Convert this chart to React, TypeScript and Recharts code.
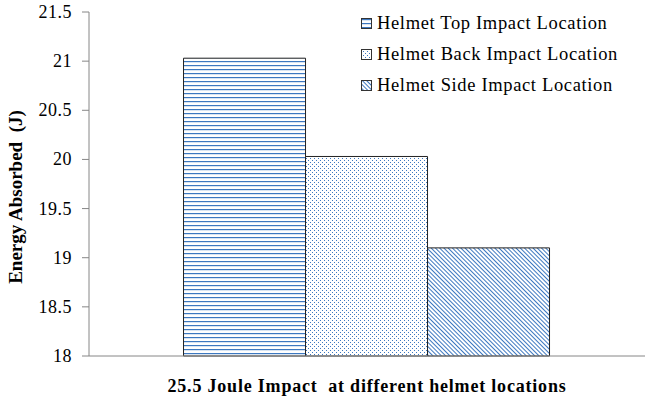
import React from 'react';
import { BarChart, Bar, XAxis, YAxis } from 'recharts';

document.body.style.margin = '0';

const categories = ['25.5 Joule Impact'];
const seriesNames = ['Helmet Top Impact Location', 'Helmet Back Impact Location', 'Helmet Side Impact Location'];
const topValues = [21.03];
const backValues = [20.03];
const sideValues = [19.1];
const yTicks = [18, 18.5, 19, 19.5, 20, 20.5, 21, 21.5];

const data = categories.map((name, i) => ({
  name,
  top: topValues[i],
  back: backValues[i],
  side: sideValues[i],
}));

const BLUE = '#3d78c0';
const AXIS = '#868686';
const FONT = '"Liberation Serif", "Times New Roman", serif';

const patternIds = ['pat-hlines', 'pat-dots', 'pat-diag'];

const Patterns = () => (
  <defs>
    <pattern id="pat-hlines" width="8" height="4" patternUnits="userSpaceOnUse">
      <rect width="8" height="4" fill="#fff" />
      <rect y="1" width="8" height="1.2" fill={BLUE} />
    </pattern>
    <pattern id="pat-dots" width="4" height="4" patternUnits="userSpaceOnUse">
      <rect width="4" height="4" fill="#fff" />
      <rect x="0" y="0" width="1" height="1" fill={BLUE} />
      <rect x="2" y="2" width="1" height="1" fill={BLUE} />
    </pattern>
    <pattern id="pat-diag" width="3" height="3" patternUnits="userSpaceOnUse" patternTransform="rotate(-45)">
      <rect width="3" height="3" fill="#fff" />
      <rect x="0" y="0" width="1" height="3" fill={BLUE} />
    </pattern>
  </defs>
);

// legend sits over the plot, top right, like the original
const LegendBox = () => (
  <div style={{ position: 'absolute', top: 8, left: 361, fontFamily: FONT, fontSize: 18.5, letterSpacing: 0.65, color: '#000' }}>
    {seriesNames.map((s, i) => (
      <div key={s} style={{ display: 'flex', alignItems: 'center', height: 31 }}>
        <svg width="11" height="11" style={{ marginRight: 5 }}>
          <rect x="0.5" y="0.5" width="10" height="10" fill={`url(#${patternIds[i]})`} stroke="#333" strokeWidth="1" />
        </svg>
        <span>{s}</span>
      </div>
    ))}
  </div>
);

const YTick = (props: any) => {
  const { x, y, payload } = props;
  return (
    <text x={x} y={y} dy={6} textAnchor="end" fontFamily={FONT} fontSize={18} letterSpacing={0.5} fill="#000">
      {payload.value}
    </text>
  );
};

const YLabel = () => (
  <text
    x={22}
    y={197}
    transform="rotate(-90 22 197)"
    textAnchor="middle"
    fontFamily={FONT}
    fontSize={19}
    fontWeight="bold"
    fill="#000"
  >
    Energy Absorbed{'\u00a0\u00a0'}(J)
  </text>
);

export default function App() {
  return (
    <div style={{ position: 'relative', width: 646, height: 401, fontFamily: FONT }}>
      <BarChart
        width={646}
        height={401}
        data={data}
        margin={{ top: 12, right: 1, left: 0, bottom: 0 }}
        barCategoryGap="17%"
        barGap={0}
      >
        <Patterns />
        <XAxis
          dataKey="name"
          tick={false}
          tickLine={false}
          axisLine={{ stroke: AXIS }}
          height={45}
          label={{
            value: '25.5 Joule Impact\u00a0 at different helmet locations',
            position: 'insideBottom',
            offset: 9,
            fontFamily: FONT,
            fontSize: 18,
            fontWeight: 'bold',
            fill: '#000',
            style: { letterSpacing: 0.8 },
          }}
        />
        <YAxis
          domain={[18, 21.5]}
          ticks={yTicks}
          width={89}
          tickSize={7}
          tickMargin={10}
          axisLine={{ stroke: AXIS }}
          tickLine={{ stroke: AXIS }}
          tick={<YTick />}
          label={<YLabel />}
        />
        <Bar dataKey="top" name={seriesNames[0]} fill="url(#pat-hlines)" stroke="#222" strokeWidth={1} isAnimationActive={false} />
        <Bar dataKey="back" name={seriesNames[1]} fill="url(#pat-dots)" stroke="#222" strokeWidth={1} isAnimationActive={false} />
        <Bar dataKey="side" name={seriesNames[2]} fill="url(#pat-diag)" stroke="#222" strokeWidth={1} isAnimationActive={false} />
      </BarChart>
      <LegendBox />
    </div>
  );
}
